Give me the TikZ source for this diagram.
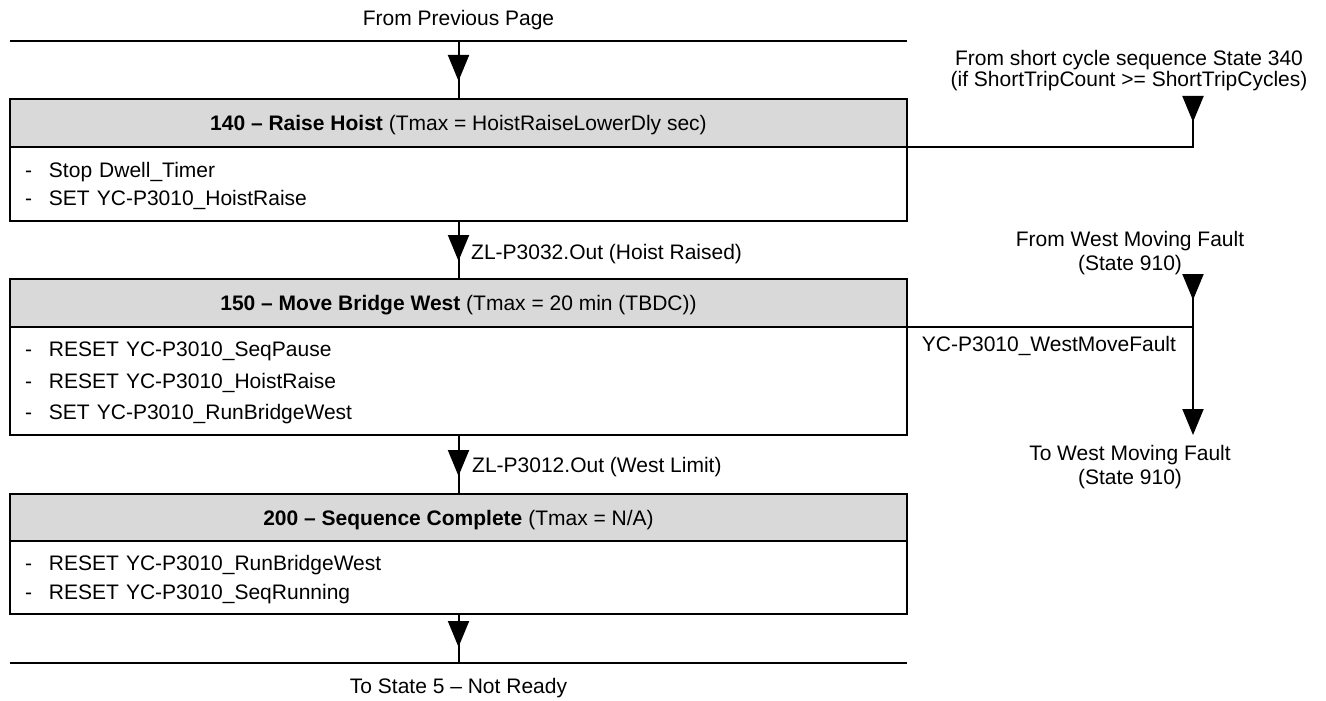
\documentclass[tikz,border=0pt]{standalone}
\usepackage{fontspec}
\setmainfont{Liberation Sans}
\usetikzlibrary{arrows.meta,decorations.markings}
\definecolor{hdrgray}{RGB}{217,217,217}
\newcommand\itm{\makebox[24pt][l]{-}}
\begin{document}
\begin{tikzpicture}[x=1pt,y=-1pt,
  lw/.style={line width=2pt},
  tri/.tip={Triangle[width=21pt,length=26pt]},
  flow/.style={lw, postaction={decorate},
    decoration={markings, mark=at position #1 with {\arrow{tri}}}},
  txt/.style={font=\fontsize{21pt}{24pt}\selectfont, inner sep=0pt},
  hdr/.style={lw, draw, fill=hdrgray, anchor=north west, outer sep=0pt,
    minimum width=897pt, minimum height=#1, inner sep=0pt,
    text height=15pt, text depth=0pt, font=\fontsize{21pt}{24pt}\selectfont},
  body/.style n args={3}{lw, draw, anchor=north west, outer sep=0pt,
    minimum width=897pt, minimum height=#1, inner xsep=15pt, inner ysep=0pt,
    text width=867pt, align=left, text height=15pt, text depth=#3,
    font=\fontsize{21pt}{#2}\selectfont}
]
\useasboundingbox (0,0) rectangle (1326,701);

% boxes
\node[hdr=47.5pt] (h1) at (10,99) {{\bfseries 140 – Raise Hoist} (Tmax = HoistRaiseLowerDly sec)};
\node[body={74.5pt}{28.3pt}{28.3pt}] (b1) at (h1.south west)
  {\itm Stop Dwell\_Timer\\\itm SET YC-P3010\_HoistRaise};
\node[hdr=47.5pt] (h2) at (10,279) {{\bfseries 150 – Move Bridge West} (Tmax = 20 min (TBDC))};
\node[body={108.5pt}{31.5pt}{63pt}] (b2) at (h2.south west)
  {\itm RESET YC-P3010\_SeqPause\\\itm RESET YC-P3010\_HoistRaise\\\itm SET YC-P3010\_RunBridgeWest};
\node[hdr=47pt] (h3) at (10,494) {{\bfseries 200 – Sequence Complete} (Tmax = N/A)};
\node[body={73pt}{29.3pt}{29.3pt}] (b3) at (h3.south west)
  {\itm RESET YC-P3010\_RunBridgeWest\\\itm RESET YC-P3010\_SeqRunning};

% page lines
\coordinate (ptl) at (10,41);
\coordinate (ptr) at (907,41);
\coordinate (pbl) at (10,663);
\coordinate (pbr) at (907,663);
\draw[lw] (ptl) -- (ptr);
\draw[lw] (pbl) -- (pbr);

% main flow
\draw[flow=-18pt] (h1.north |- ptl) -- (h1.north);
\draw[flow=-18pt] (b1.south) -- (h2.north);
\draw[flow=-18pt] (b2.south) -- (h3.north);
\draw[flow=-16pt] (b3.south) -- (b3.south |- pbl);

% right side connectors
\coordinate (sc) at (1193,96);
\coordinate (j1) at (sc |- h1.south east);
\draw[flow=26pt] (sc) -- (j1) -- (h1.south east);
\coordinate (fw) at (1193,274);
\coordinate (tw) at (1193,435);
\coordinate (j2) at (fw |- h2.south east);
\draw[flow=26pt, -{tri}] (fw) -- (tw);
\draw[lw] (h2.south east) -- (j2);

% texts (multi-line: base anchor is the last line)
\node[txt, anchor=base] (prev) at (458.5,26) {From Previous Page};
\node[txt, anchor=base, align=center, font=\fontsize{21pt}{21pt}\selectfont] (sct) at (1129,87)
  {From short cycle sequence State 340\\(if ShortTripCount >= ShortTripCycles)};
\node[txt, anchor=base, align=center] (fwt) at (1130,270) {From West Moving Fault\\(State 910)};
\node[txt, anchor=base, align=center] (twt) at (1130,484) {To West Moving Fault\\(State 910)};
\node[txt, anchor=base west] (l1) at (471,259.3) {ZL-P3032.Out (Hoist Raised)};
\node[txt, anchor=base west] (l2) at (472,472.7) {ZL-P3012.Out (West Limit)};
\node[txt, anchor=base west] (l3) at (921.7,351) {YC-P3010\_WestMoveFault};
\node[txt, anchor=base] (endt) at (458.5,693.3) {To State 5 – Not Ready};
\end{tikzpicture}
\end{document}
